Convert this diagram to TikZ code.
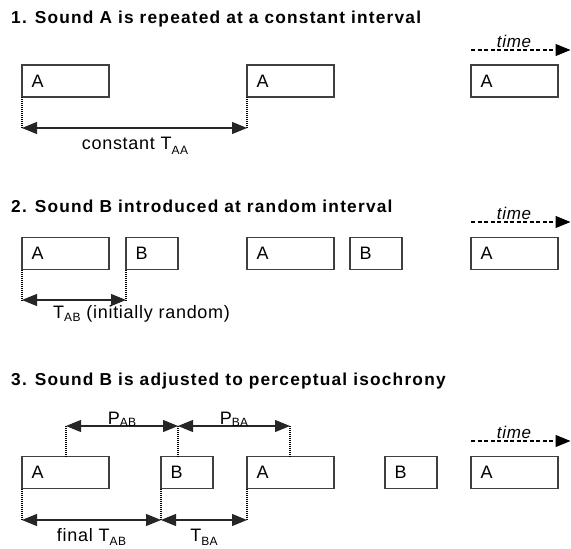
\documentclass[tikz,border=0pt]{standalone}
\usepackage{fontspec}
\setmainfont{Liberation Sans}[LetterSpace=4]
\newfontfamily\ttlfont{Liberation Sans}[LetterSpace=7]
\usetikzlibrary{arrows.meta}
\newcommand{\subs}[2][3.5pt]{\raisebox{-#1}{\fontsize{12}{12}\selectfont #2}}
\begin{document}
\begin{tikzpicture}[x=1pt,y=-1pt,
  sbox/.style={draw=black!75, line width=1.1pt, minimum height=32pt, inner xsep=9.5pt, inner ysep=0pt,
    outer sep=0pt, anchor=north west, font=\fontsize{18}{18}\selectfont, align=left},
  wbox/.style={sbox, minimum width=87pt, text width=68pt},
  nbox/.style={sbox, minimum width=52pt, text width=33pt},
  ttl/.style={anchor=base west, inner sep=0pt, font=\ttlfont\bfseries\fontsize{17.3}{17.3}\selectfont},
  lbl/.style={anchor=base, inner sep=0pt, font=\fontsize{18}{18}\selectfont},
  tml/.style={anchor=base, inner sep=0pt, font=\itshape\fontsize{17}{17}\selectfont},
  dim/.style={{Triangle[length=15pt,width=12pt]}-{Triangle[length=15pt,width=12pt]}, line width=1.1pt, draw=black!85},
  dotl/.style={dash pattern=on 1pt off 1pt, line width=1.1pt},
  tarr/.style={-{Triangle[length=15pt,width=12pt]}, dash pattern=on 4pt off 2.5pt, line width=1.1pt}
]
\useasboundingbox (0,0) rectangle (571,549);

% ---------- Section 1 ----------
\node[ttl] (t1) at (11,23.5) {1. Sound A is repeated at a constant interval};
\node[wbox] (a11) at (22,65) {A};
\node[wbox] (a12) at (247,65) {A};
\node[wbox] (a13) at (471,65) {A};
\coordinate (ts1) at (471,50);
\coordinate (te1) at (570.5,50);
\draw[tarr] (ts1) -- (te1);
\node[tml] (tm1) at (514,47.5) {time};
\coordinate (d11) at (22,128);
\coordinate (d12) at (247,128);
\draw[dotl] (a11.south west) -- (d11);
\draw[dotl] (a12.south west) -- (d12);
\draw[dim] (d11) -- (d12);
\node[lbl] (l1) at (135,149.5) {constant T\subs[5pt]{AA}};

% ---------- Section 2 ----------
\node[ttl] (t2) at (11,212) {2. Sound B introduced at random interval};
\node[wbox] (a21) at (22,237.5) {A};
\node[nbox] (b21) at (126,237.5) {B};
\node[wbox] (a22) at (247,237.5) {A};
\node[nbox] (b22) at (350,237.5) {B};
\node[wbox] (a23) at (471,237.5) {A};
\coordinate (ts2) at (471,222);
\coordinate (te2) at (570.5,222);
\draw[tarr] (ts2) -- (te2);
\node[tml] (tm2) at (514,219.5) {time};
\coordinate (d21) at (22,300);
\coordinate (d22) at (126,300);
\draw[dotl] (a21.south west) -- (d21);
\draw[dotl] (b21.south west) -- (d22);
\draw[dim] (d21) -- (d22);
\node[lbl, anchor=base west] (l2) at (53,318) {T\subs{AB} (initially random)};

% ---------- Section 3 ----------
\node[ttl] (t3) at (11,385) {3. Sound B is adjusted to perceptual isochrony};
\node[wbox] (a31) at (22,456.5) {A};
\node[nbox] (b31) at (161,456.5) {B};
\node[wbox] (a32) at (247,456.5) {A};
\node[nbox] (b32) at (385,456.5) {B};
\node[wbox] (a33) at (471,456.5) {A};
\coordinate (ts3) at (471,441);
\coordinate (te3) at (570.5,441);
\draw[tarr] (ts3) -- (te3);
\node[tml] (tm3) at (514,438.5) {time};
% perceptual centres
\coordinate (p1) at (66,456.5);
\coordinate (q1) at (66,426);
\coordinate (p2) at (178,456.5);
\coordinate (q2) at (178,426);
\coordinate (p3) at (290,456.5);
\coordinate (q3) at (290,426);
\draw[dotl] (p1) -- (q1);
\draw[dotl] (p2) -- (q2);
\draw[dotl] (p3) -- (q3);
\draw[dim] (q1) -- (q2);
\draw[dim] (q2) -- (q3);
\node[lbl] (l3) at (122,424) {P\subs[2pt]{AB}};
\node[lbl] (l4) at (234,424) {P\subs[2pt]{BA}};
% onsets
\coordinate (d31) at (22,520);
\coordinate (d32) at (161,520);
\coordinate (d33) at (247,520);
\draw[dotl] (a31.south west) -- (d31);
\draw[dotl] (b31.south west) -- (d32);
\draw[dotl] (a32.south west) -- (d33);
\draw[dim] (d31) -- (d32);
\draw[dim] (d32) -- (d33);
\node[lbl] (l5) at (91.5,541.5) {final T\subs{AB}};
\node[lbl] (l6) at (204,541.5) {T\subs{BA}};
\end{tikzpicture}
\end{document}
